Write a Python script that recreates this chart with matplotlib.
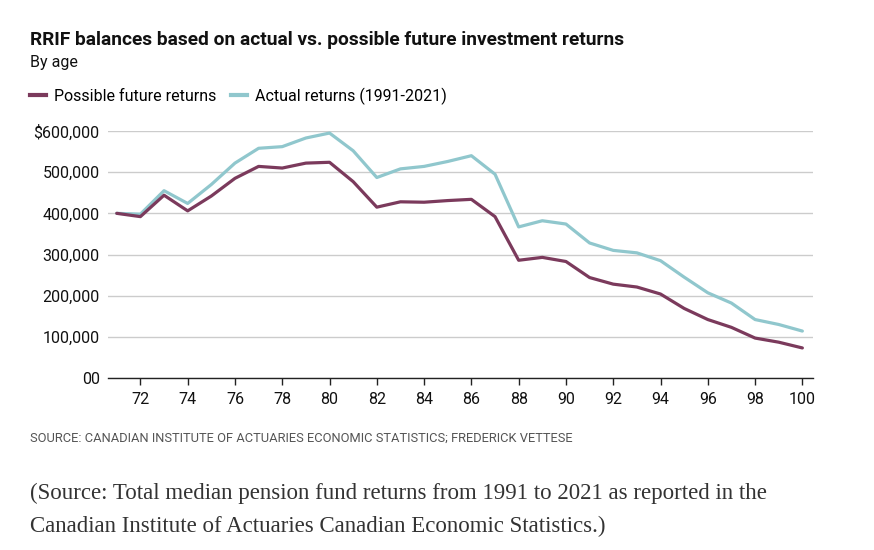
import matplotlib.pyplot as plt
from matplotlib.lines import Line2D

SANS = ["Liberation Sans Narrow", "Roboto", "DejaVu Sans"]
SERIF = ["Liberation Serif", "DejaVu Serif"]
plt.rcParams["font.family"] = SANS

ages = list(range(71, 101))
possible = [400, 392, 444, 406, 442, 485, 514, 510, 522, 524,
            477, 415, 428, 427, 431, 434, 392, 286, 293, 283,
            244, 228, 221, 204, 169, 142, 123, 97, 87, 73]
actual = [400, 398, 455, 424, 470, 522, 558, 562, 583, 595,
          552, 487, 508, 514, 526, 540, 495, 367, 382, 374,
          328, 310, 304, 285, 245, 207, 182, 142, 130, 114]
possible = [v * 1000 for v in possible]
actual = [v * 1000 for v in actual]

yticks = [0, 100000, 200000, 300000, 400000, 500000, 600000]
ylabels = ["00", "100,000", "200,000", "300,000", "400,000", "500,000", "$600,000"]
xticks = list(range(72, 101, 2))

C_POSS = "#7b3a5c"
C_ACT = "#90c7cd"

fig = plt.figure(figsize=(8.74, 5.5), dpi=100)
W, H = 874, 550
ax = fig.add_axes([108 / W, 1 - 378 / H, (813 - 108) / W, (378 - 131) / H])

ax.plot(ages, actual, color=C_ACT, lw=2.3, solid_capstyle="round", zorder=3)
ax.plot(ages, possible, color=C_POSS, lw=2.3, solid_capstyle="round", zorder=4)

ax.set_xlim(70.63, 100.45)
ax.set_ylim(0, 600000)
ax.set_yticks(yticks)
ax.set_yticklabels(ylabels)
ax.set_xticks(xticks)
ax.tick_params(axis="y", length=0, pad=6, labelsize=11.5, labelcolor="#111")
ax.tick_params(axis="x", length=5, width=1, direction="out", pad=5,
               labelsize=11.5, labelcolor="#111", color="#222")
ax.grid(axis="y", color="#cccccc", lw=1)
ax.set_axisbelow(True)
for s in ["top", "right", "left"]:
    ax.spines[s].set_visible(False)
ax.spines["bottom"].set_color("#222")
ax.spines["bottom"].set_linewidth(1)

fig.text(30 / W, 1 - 40 / H, "RRIF balances based on actual vs. possible future investment returns",
         fontsize=13.8, fontweight="bold", va="center", ha="left", color="#111")
fig.text(30 / W, 1 - 63 / H, "By age", fontsize=11.5, va="center", ha="left", color="#111")

handles = [Line2D([], [], color=C_POSS, lw=3), Line2D([], [], color=C_ACT, lw=3)]
fig.legend(handles, ["Possible future returns", "Actual returns (1991-2021)"],
           loc="center left", bbox_to_anchor=(30 / W, 1 - 96 / H), ncol=2,
           frameon=False, fontsize=11.5, handlelength=1.0, handletextpad=0.5,
           columnspacing=0.9, borderaxespad=0, borderpad=0)

fig.text(30 / W, 1 - 438 / H,
         "SOURCE: CANADIAN INSTITUTE OF ACTUARIES ECONOMIC STATISTICS; FREDERICK VETTESE",
         fontsize=9.3, va="center", ha="left", color="#555")
fig.text(30 / W, 1 - 493 / H,
         "(Source: Total median pension fund returns from 1991 to 2021 as reported in the",
         fontsize=16.5, va="center", ha="left", color="#333", family=SERIF)
fig.text(30 / W, 1 - 526 / H,
         "Canadian Institute of Actuaries Canadian Economic Statistics.)",
         fontsize=16.5, va="center", ha="left", color="#333", family=SERIF)

fig.savefig("out.png", dpi=100)
